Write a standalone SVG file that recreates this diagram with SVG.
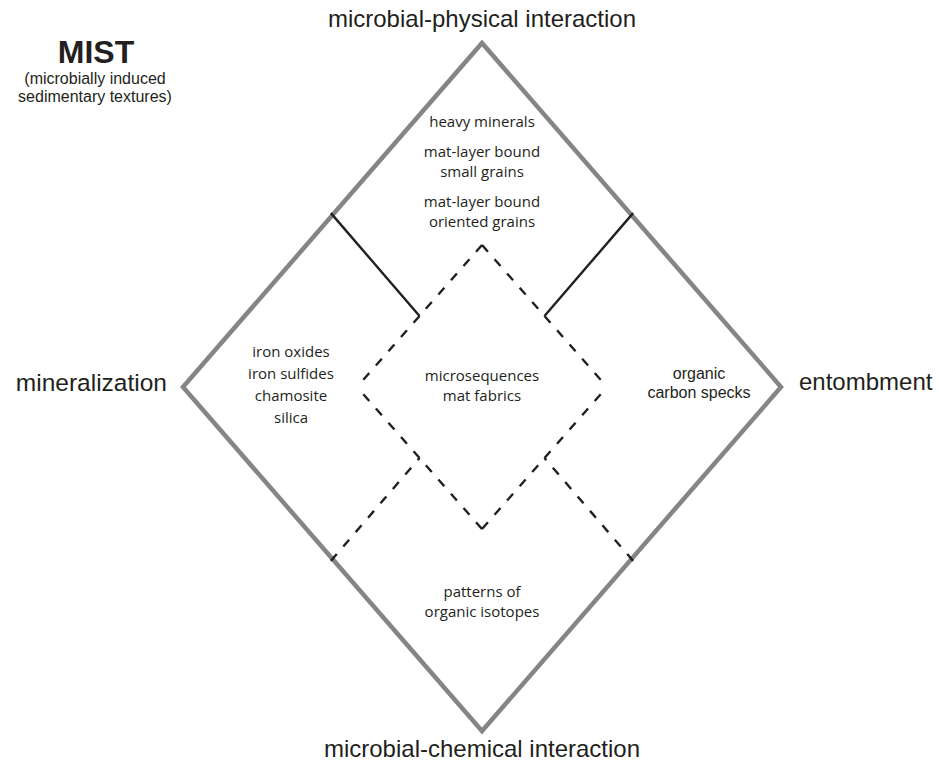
<svg xmlns="http://www.w3.org/2000/svg" width="939" height="762" viewBox="0 0 939 762">
  <style>
    .axis { font-family: "Liberation Sans", Arial, sans-serif; font-size: 24px; fill: #231f20; }
    .title { font-family: "Liberation Sans", Arial, sans-serif; font-size: 32px; font-weight: bold; fill: #231f20; text-anchor: middle; }
    .sub { font-family: "Liberation Sans", Arial, sans-serif; font-size: 16px; fill: #231f20; text-anchor: middle; }
    .lbl { font-family: "Open Sans", "Noto Sans", sans-serif; font-size: 15px; fill: #231f20; text-anchor: middle; }
    .frame { fill: none; stroke: #858585; stroke-width: 4.5; stroke-linejoin: miter; stroke-miterlimit: 10; }
    .solid { fill: none; stroke: #231f20; stroke-width: 2.4; }
    .dash { fill: none; stroke: #231f20; stroke-width: 2.4; stroke-dasharray: 9 10; }
  </style>

  <!-- heading -->
  <g id="heading">
    <text class="title" x="96" y="63">MIST</text>
    <text class="sub" x="95" y="84">(microbially induced</text>
    <text class="sub" x="95" y="102">sedimentary textures)</text>
  </g>

  <!-- outer diamond -->
  <g id="frame">
    <path class="frame" d="M482,43 L781,387 L482,731 L183,387 Z"/>
  </g>

  <!-- axis labels -->
  <g id="axis-top"><text class="axis" x="482" y="27" text-anchor="middle">microbial-physical interaction</text></g>
  <g id="axis-left"><text class="axis" x="167" y="391" text-anchor="end" style="font-size:24.5px">mineralization</text></g>
  <g id="axis-right"><text class="axis" x="799" y="390">entombment</text></g>
  <g id="axis-bottom"><text class="axis" x="482" y="757" text-anchor="middle">microbial-chemical interaction</text></g>

  <!-- dividers and inner dashed diamond -->
  <g id="connectors">
    <line class="solid" x1="330.9" y1="213.1" x2="419.5" y2="316"/>
    <line class="solid" x1="633.1" y1="213.1" x2="544.5" y2="316"/>
    <line class="dash" x1="330.9" y1="560.9" x2="419.5" y2="458"/>
    <line class="dash" x1="633.1" y1="560.9" x2="544.5" y2="458"/>
    <!-- inner diamond, drawn in half-edges -->
    <line class="dash" x1="482" y1="245" x2="419.5" y2="316"/>
    <line class="dash" x1="482" y1="245" x2="544.5" y2="316"/>
    <line class="dash" x1="419.5" y1="316" x2="357" y2="387"/>
    <line class="dash" x1="544.5" y1="316" x2="607" y2="387"/>
    <line class="dash" x1="482" y1="529" x2="419.5" y2="458"/>
    <line class="dash" x1="482" y1="529" x2="544.5" y2="458"/>
    <line class="dash" x1="419.5" y1="458" x2="357" y2="387"/>
    <line class="dash" x1="544.5" y1="458" x2="607" y2="387"/>
  </g>

  <!-- region contents -->
  <g id="physical">
    <text class="lbl" x="482" y="127">heavy minerals</text>
    <text class="lbl" x="482" y="157">mat-layer bound</text>
    <text class="lbl" x="482" y="177">small grains</text>
    <text class="lbl" x="482" y="207">mat-layer bound</text>
    <text class="lbl" x="482" y="227">oriented grains</text>
  </g>
  <g id="mineral">
    <text class="lbl" x="291" y="357">iron oxides</text>
    <text class="lbl" x="291" y="379">iron sulfides</text>
    <text class="lbl" x="291" y="401">chamosite</text>
    <text class="lbl" x="291" y="423">silica</text>
  </g>
  <g id="core">
    <text class="lbl" x="482" y="381">microsequences</text>
    <text class="lbl" x="482" y="401">mat fabrics</text>
  </g>
  <g id="entomb">
    <text class="sub" x="699" y="379">organic</text>
    <text class="sub" x="699" y="398">carbon specks</text>
  </g>
  <g id="chemical">
    <text class="lbl" x="482" y="597">patterns of</text>
    <text class="lbl" x="482" y="617">organic isotopes</text>
  </g>
</svg>
